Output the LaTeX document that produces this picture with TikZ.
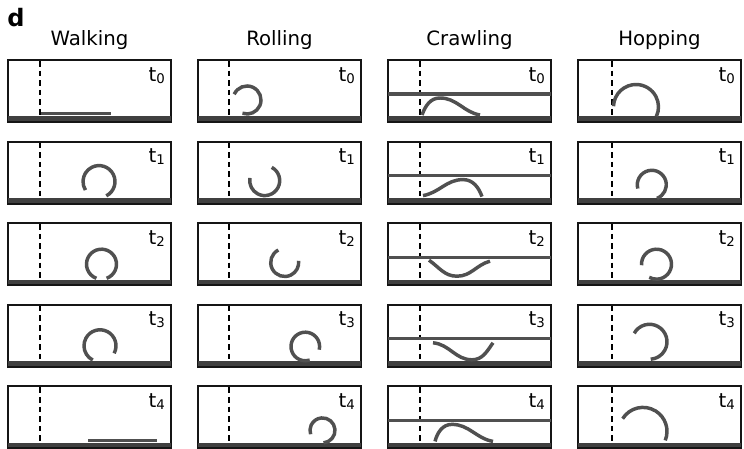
\documentclass[tikz,border=0pt]{standalone}
\usepackage{fontspec}
\setmainfont{DejaVu Sans}
\usetikzlibrary{positioning, calc}
\definecolor{frameLine}{HTML}{151515}
\definecolor{groundFill}{HTML}{404040}
\definecolor{bodyGray}{HTML}{505050}
\definecolor{ceilGray}{HTML}{505050}
\tikzset{
  panel/.style={draw=frameLine, line width=1.5pt, inner sep=0pt, outer sep=0pt,
    minimum width=122.25pt, minimum height=46.5pt, anchor=south west},
  ground/.style={fill=groundFill},
  startline/.style={draw=black, line width=1.6pt, dash pattern=on 4.2pt off 3pt},
  ceiling/.style={draw=ceilGray, line width=2.3pt},
  body/.style={draw=bodyGray, line width=2.6pt},
  coltitle/.style={font=\fontsize{14.8}{17}\selectfont, inner sep=0pt},
  timelabel/.style={font=\fontsize{14.8}{17}\selectfont, inner sep=0pt, anchor=north east},
  panelletter/.style={font=\fontsize{18}{20}\selectfont\bfseries, inner sep=0pt, anchor=base west},
}
\newcommand{\tsub}[1]{t\raisebox{-1.5pt}{\fontsize{10}{10}\selectfont #1}}

\begin{document}
\begin{tikzpicture}[x=0.75pt, y=0.75pt]
  \useasboundingbox (0,0) rectangle (744,449);

  % === Panel letter ===
  \node[panelletter] (letter) at (7,422.3) {d};

  % === Frames, ground, start line, time labels, titles ===
  \foreach \c/\col/\title/\dx in {0/walk/Walking/32, 1/roll/Rolling/31, 2/crawl/Crawling/32, 3/hop/Hopping/34} {
    \foreach \r in {0,...,4} {
      \node[panel] (\col\r) at ({8+190*\c},{327-81.6*\r}) {};
      \begin{scope}[shift={(\col\r.south west)}]
        \fill[ground] (0,1) rectangle (163,5.5);
        \draw[startline] (\dx,61) -- (\dx,5);
      \end{scope}
      \node[timelabel] (\col-t\r) at ($(\col\r.north east)+(-6,-7)$) {\tsub{\r}};
    }
    \node[coltitle, above=7.3pt of \col0] (\col-title) {\title};
  }

  % === Crawling: ceiling ===
  \foreach \r in {0,...,4} {
    \draw[ceiling] ($(crawl\r.south west)+(0,28)$) -- ($(crawl\r.south east)+(0,28)$);
  }

  % === Walking ===
  \begin{scope}[shift={(walk0.south west)}]
    \draw[body] (33,8.5) -- (103,8.5);
  \end{scope}
  \begin{scope}[shift={(walk1.south west)}]
    \draw[body] (91,22) ++(-63:16) arc[start angle=-63, end angle=212, radius=16];
  \end{scope}
  \begin{scope}[shift={(walk2.south west)}]
    \draw[body] (93.5,21) ++(-70:15) arc[start angle=-70, end angle=250, radius=15];
  \end{scope}
  \begin{scope}[shift={(walk3.south west)}]
    \draw[body] (92,21) ++(-28:16) arc[start angle=-28, end angle=243, radius=16];
  \end{scope}
  \begin{scope}[shift={(walk4.south west)}]
    \draw[body] (80,8) -- (149,8);
  \end{scope}

  % === Rolling ===
  \begin{scope}[shift={(roll0.south west)}]
    \draw[body] (49,22) ++(156:14) arc[start angle=156, end angle=-109, radius=14];
  \end{scope}
  \begin{scope}[shift={(roll1.south west)}]
    \draw[body] (66.7,23) ++(62:15) arc[start angle=62, end angle=-190, radius=15];
  \end{scope}
  \begin{scope}[shift={(roll2.south west)}]
    \draw[body] (86.7,22.7) ++(117:14) arc[start angle=117, end angle=367, radius=14];
  \end{scope}
  \begin{scope}[shift={(roll3.south west)}]
    \draw[body] (107.3,20.3) ++(-13:14.3) arc[start angle=-13, end angle=288, radius=14.3];
  \end{scope}
  \begin{scope}[shift={(roll4.south west)}]
    \draw[body] (124.5,18) ++(-85:12.5) arc[start angle=-85, end angle=198, radius=12.5];
  \end{scope}

  % === Crawling ===
  \begin{scope}[shift={(crawl0.south west)}]
    \draw[body] (34,7) to[out=70,in=180] (52,24) to[out=0,in=170] (92,7);
  \end{scope}
  \begin{scope}[shift={(crawl1.south west)}]
    \draw[body] (35,8) to[out=10,in=180] (75,24) to[out=0,in=110] (94,7);
  \end{scope}
  \begin{scope}[shift={(crawl2.south west)}]
    \draw[body] (41,25) to[out=-35,in=180] (69,9) to[out=0,in=195] (102,24);
  \end{scope}
  \begin{scope}[shift={(crawl3.south west)}]
    \draw[body] (45,24) to[out=-5,in=180] (84,7) to[out=0,in=235] (105,24);
  \end{scope}
  \begin{scope}[shift={(crawl4.south west)}]
    \draw[body] (47,7) to[out=75,in=180] (64,24) to[out=0,in=170] (105,7);
  \end{scope}

  % === Hopping ===
  \begin{scope}[shift={(hop0.south west)}]
    \draw[body] (58,15) ++(178:22.5) arc[start angle=178, end angle=-25, radius=22.5];
  \end{scope}
  \begin{scope}[shift={(hop1.south west)}]
    \draw[body] (73.8,18.8) ++(195:14.5) arc[start angle=195, end angle=-69, radius=14.5];
  \end{scope}
  \begin{scope}[shift={(hop2.south west)}]
    \draw[body] (78.5,21) ++(184:15) arc[start angle=184, end angle=-119, radius=15];
  \end{scope}
  \begin{scope}[shift={(hop3.south west)}]
    \draw[body] (71.5,25) ++(151:17.5) arc[start angle=151, end angle=-86, radius=17.5];
  \end{scope}
  \begin{scope}[shift={(hop4.south west)}]
    \draw[body] (65,17) ++(148:24) arc[start angle=148, end angle=-22, radius=24];
  \end{scope}

\end{tikzpicture}
\end{document}
